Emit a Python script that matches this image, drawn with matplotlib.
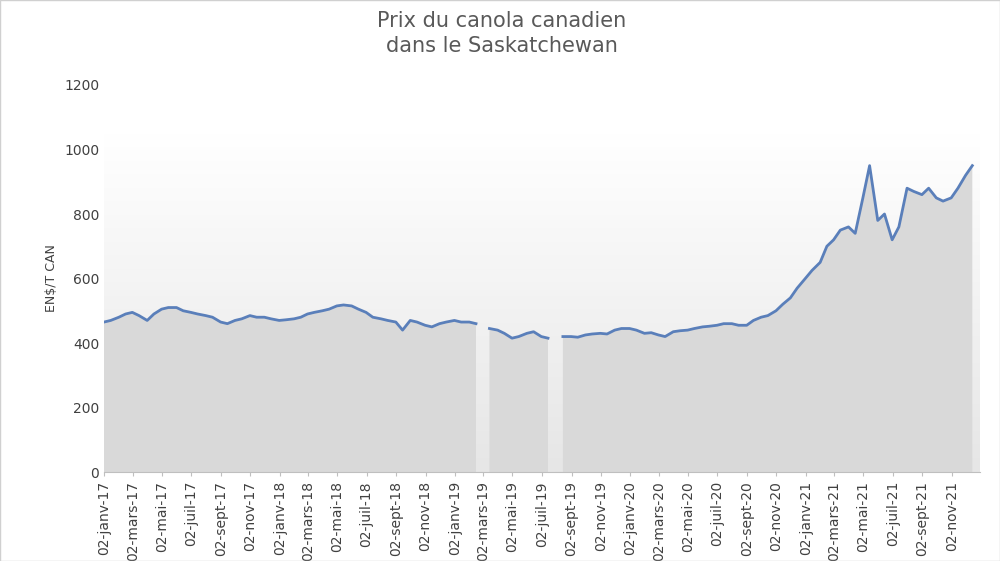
import numpy as np
import pandas as pd
import matplotlib
matplotlib.use('Agg')
import matplotlib.pyplot as plt
from matplotlib.patches import Rectangle

# semi-monthly prices (CAN$/t), NaN = gap in source data
dates = pd.date_range('2017-01-01', '2021-12-31', freq='SMS')
prices = [
    465, 470, 480, 490, 495, 485, 470, 490, 505, 510, 510, 500, 495, 490, 485, 480,
    465, 460, 470, 475, 485, 480, 480, 475,
    470, 472, 475, 480, 490, 495, 500, 505, 515, 518, 515, 505, 495, 480, 475, 470,
    465, 440, 470, 465, 455, 450, 460, 465,
    470, 465, 465, 460, np.nan, 445, 440, 430, 415, 420, 430, 435, 420, 415, np.nan, 420,
    420, 418, 425, 428, 430, 428, 440, 445,
    445, 440, 430, 432, 425, 420, 435, 438, 440, 445, 450, 452, 455, 460, 460, 455,
    455, 470, 480, 485, 500, 520, 540, 570,
    600, 625, 650, 700, 720, 750, 760, 740, 850, 950, 780, 800, 720, 760, 880, 870,
    860, 880, 850, 840, 850, 880, 920, 950, 1000, 1010,
]
prices = np.array(prices[:len(dates)], dtype=float)
tick_dates = pd.date_range('2017-01-01', periods=30, freq='2MS') + pd.Timedelta(days=1)
months_fr = {1: 'janv', 3: 'mars', 5: 'mai', 7: 'juil', 9: 'sept', 11: 'nov'}
tick_labels = ['02-%s-%s' % (months_fr[d.month], d.strftime('%y')) for d in tick_dates]

fig = plt.figure(figsize=(10, 5.61), dpi=100)
ax = fig.add_axes([0.104, 0.1586, 0.876, 0.6899])
fig.patches.append(Rectangle((0, 0), 1, 1, transform=fig.transFigure,
                             fill=False, edgecolor='#d0d0d0', lw=1))

x0, x1 = dates[0], pd.Timestamp('2021-12-31')
grad = np.linspace(0.0, 1.0, 256).reshape(-1, 1)
ax.imshow(grad, extent=[x0, x1, 0, 1050], aspect='auto', origin='upper',
          cmap=matplotlib.colors.LinearSegmentedColormap.from_list('g', ['#ffffff', '#e6e6e6']),
          zorder=0)
ax.fill_between(dates, prices, 0, color='#d9d9d9', lw=0, zorder=1)
ax.plot(dates, prices, color='#5a7fba', lw=2, zorder=2)

ax.set_xlim(x0, x1)
ax.set_ylim(0, 1200)
ax.set_yticks(range(0, 1201, 200))
ax.set_xticks(tick_dates)
ax.set_xticklabels(tick_labels, rotation=90, fontsize=10, color='#404040')
ax.tick_params(axis='y', length=0, labelsize=10, labelcolor='#404040')
ax.tick_params(axis='x', length=3, color='#bfbfbf')
for s in ['top', 'right', 'left']:
    ax.spines[s].set_visible(False)
ax.spines['bottom'].set_color('#bfbfbf')
ax.set_ylabel('EN$/T CAN', fontsize=9, color='#404040')

fig.text(0.502, 0.90, 'Prix du canola canadien\ndans le Saskatchewan', ha='center',
         va='bottom', fontsize=15, color='#595959', linespacing=1.3)

fig.savefig('out.png', dpi=100)
